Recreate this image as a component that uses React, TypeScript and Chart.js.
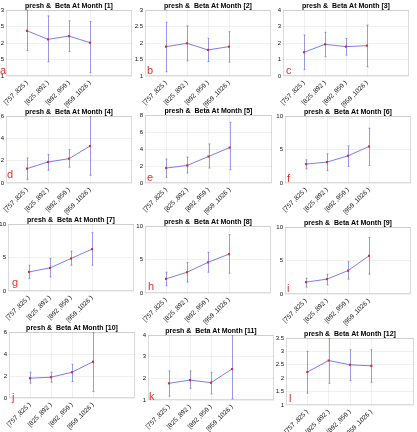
import React, { useEffect, useRef } from 'react';
import { Chart, registerables } from 'chart.js';
Chart.register(...registerables);

// ---------- data ----------
const categories = ['[757 ,825 )', '[825 ,892 )', '[892 ,959 )', '[959 ,1026 )'];
const months = [1, 2, 3, 4, 5, 6, 7, 8, 9, 10, 11, 12];
const panelLetters = ['a', 'b', 'c', 'd', 'e', 'f', 'g', 'h', 'i', 'j', 'k', 'l'];

const mean1 = [2.37, 2.11, 2.21, 2.01];
const low1 = [1.77, 1.43, 1.74, 1.10];
const high1 = [3.0, 2.82, 2.67, 2.65];

const mean2 = [1.89, 1.99, 1.79, 1.89];
const low2 = [1.13, 1.46, 1.44, 1.42];
const high2 = [2.63, 2.52, 2.14, 2.34];

const mean3 = [1.44, 1.92, 1.78, 1.84];
const low3 = [0.40, 1.17, 1.27, 0.56];
const high3 = [2.48, 2.65, 2.28, 3.09];

const mean4 = [1.29, 1.88, 2.18, 3.31];
const low4 = [0.33, 1.14, 1.43, 0.69];
const high4 = [2.24, 2.54, 2.99, 6.0];

const mean5 = [1.76, 2.07, 3.12, 4.17];
const low5 = [0.66, 1.17, 1.76, 1.56];
const high5 = [2.81, 3.04, 4.60, 7.14];

const mean6 = [2.82, 3.12, 4.06, 5.45];
const low6 = [2.12, 1.83, 2.47, 2.62];
const high6 = [3.46, 4.35, 5.54, 8.17];

const mean7 = [2.85, 3.45, 4.85, 6.25];
const low7 = [1.85, 2.10, 3.85, 3.85];
const high7 = [3.85, 4.85, 5.95, 8.70];

const mean8 = [2.11, 3.10, 4.58, 5.80];
const low8 = [1.08, 1.62, 3.10, 2.95];
const high8 = [3.10, 4.53, 6.06, 8.71];

const mean9 = [1.77, 2.22, 3.49, 5.70];
const low9 = [1.03, 1.37, 2.22, 2.95];
const high9 = [2.36, 2.95, 4.82, 8.42];

const mean10 = [1.80, 1.89, 2.34, 3.30];
const low10 = [1.35, 1.44, 1.50, 0.60];
const high10 = [2.34, 2.34, 3.06, 6.0];

const mean11 = [1.77, 1.92, 1.80, 2.43];
const low11 = [1.18, 1.54, 1.28, 1.05];
const high11 = [2.34, 2.34, 2.28, 4.0];

const mean12 = [2.23, 2.66, 2.50, 2.46];
const low12 = [1.44, 1.81, 1.91, 1.85];
const high12 = [3.00, 3.50, 3.06, 3.06];

// y-axis tick settings per panel: [min, max, step]
const yTicks1 = [1, 3, 0.5];
const yTicks2 = [1, 3, 0.5];
const yTicks3 = [0, 4, 1];
const yTicks4 = [0, 6, 2];
const yTicks5 = [0, 8, 2];
const yTicks6 = [0, 10, 5];
const yTicks7 = [0, 10, 5];
const yTicks8 = [0, 10, 5];
const yTicks9 = [0, 10, 5];
const yTicks10 = [0, 6, 2];
const yTicks11 = [1, 4, 1];
const yTicks12 = [1, 3.5, 0.5];

const means = [mean1, mean2, mean3, mean4, mean5, mean6, mean7, mean8, mean9, mean10, mean11, mean12];
const lows = [low1, low2, low3, low4, low5, low6, low7, low8, low9, low10, low11, low12];
const highs = [high1, high2, high3, high4, high5, high6, high7, high8, high9, high10, high11, high12];
const yTicks = [yTicks1, yTicks2, yTicks3, yTicks4, yTicks5, yTicks6, yTicks7, yTicks8, yTicks9, yTicks10, yTicks11, yTicks12];

// ---------- layout (page px): plot area left, right, top, bottom ----------
const plotBoxes = [
  [6, 132, 10, 76],
  [145, 271, 10, 76],
  [283, 409, 10, 76],
  [6, 132, 116, 183],
  [145, 272, 115, 183],
  [285, 411, 116, 183],
  [8, 134, 224, 291],
  [145, 271, 226, 293],
  [285, 411, 227, 294],
  [9, 135, 332, 398],
  [148, 274, 335, 400],
  [286, 414, 338, 405],
];
// letter offset: dx from plot left, baseline dy above plot bottom
const letterOffsets = [
  [-6, 2], [2, 2], [3, 2], [1, 5], [2, 2], [2, 1],
  [4, 5], [3, 3], [2, 2], [3, -3], [1, 0], [3, 3],
];

const Y_AXIS_W = 24;
const X_AXIS_H = 32;
const PAD_TOP = 12;
const PAD_RIGHT = 4;
const FONT = "'Liberation Sans', Arial, sans-serif";

const decorPlugin = {
  id: 'decor',
  beforeDatasetsDraw(chart: any) {
    const o = chart.options.plugins.decor;
    const { ctx, chartArea } = chart;
    const xs = chart.scales.x;
    const ys = chart.scales.y;
    ctx.save();
    // box
    ctx.strokeStyle = 'rgba(0,0,0,0.14)';
    ctx.lineWidth = 1;
    ctx.strokeRect(chartArea.left + 0.5, chartArea.top + 0.5, chartArea.right - chartArea.left - 1, chartArea.bottom - chartArea.top - 1);
    // error bars
    ctx.beginPath();
    ctx.rect(chartArea.left, chartArea.top, chartArea.right - chartArea.left, chartArea.bottom - chartArea.top);
    ctx.clip();
    ctx.strokeStyle = 'rgba(95,95,225,0.6)';
    ctx.lineWidth = 1;
    o.lows.forEach((lo: number, i: number) => {
      const hi = o.highs[i];
      const x = Math.round(xs.getPixelForValue(i + 1)) + 0.5;
      const y1 = ys.getPixelForValue(lo);
      const y2 = ys.getPixelForValue(hi);
      ctx.beginPath();
      ctx.moveTo(x, y1);
      ctx.lineTo(x, y2);
      ctx.moveTo(x - 1, y1);
      ctx.lineTo(x + 1, y1);
      ctx.moveTo(x - 1, y2);
      ctx.lineTo(x + 1, y2);
      ctx.stroke();
    });
    ctx.restore();
  },
  afterDraw(chart: any) {
    const o = chart.options.plugins.decor;
    const { ctx, chartArea } = chart;
    ctx.save();
    ctx.fillStyle = '#000';
    ctx.font = `bold 7px ${FONT}`;
    ctx.textAlign = 'center';
    ctx.textBaseline = 'alphabetic';
    ctx.fillText(o.title, (chartArea.left + chartArea.right) / 2, chartArea.top - 2);
    ctx.fillStyle = '#e5302c';
    ctx.font = `11px ${FONT}`;
    ctx.textAlign = 'left';
    ctx.fillText(o.letter, chartArea.left + o.letterDx, chartArea.bottom - o.letterDy);
    ctx.restore();
  },
};

function Panel({ idx }: { idx: number }) {
  const ref = useRef<HTMLCanvasElement>(null);
  const [pl, pr, pt, pb] = plotBoxes[idx];
  const width = pr - pl + Y_AXIS_W + PAD_RIGHT;
  const height = pb - pt + PAD_TOP + X_AXIS_H;
  const left = pl - Y_AXIS_W;
  const top = pt - PAD_TOP;

  useEffect(() => {
    const [ymin, ymax, ystep] = yTicks[idx];
    const chart = new Chart(ref.current as HTMLCanvasElement, {
      type: 'line',
      data: {
        datasets: [
          {
            data: means[idx].map((v, i) => ({ x: i + 1, y: v })),
            borderColor: 'rgba(110,110,240,0.9)',
            borderWidth: 1,
            pointBackgroundColor: '#e02a2a',
            pointBorderColor: '#e02a2a',
            pointRadius: 1.5,
            pointBorderWidth: 0,
            pointStyle: 'rect',
            tension: 0,
          },
        ],
      },
      options: {
        animation: false,
        responsive: false,
        devicePixelRatio: 1,
        layout: { padding: { top: PAD_TOP, right: PAD_RIGHT, left: 0, bottom: 0 } },
        plugins: {
          legend: { display: false },
          tooltip: { enabled: false },
          title: { display: false },
          decor: {
            title: `presh &  Beta At Month [${months[idx]}]`,
            letter: panelLetters[idx],
            letterDx: letterOffsets[idx][0],
            letterDy: letterOffsets[idx][1],
            lows: lows[idx],
            highs: highs[idx],
          },
        } as any,
        scales: {
          x: {
            type: 'linear',
            min: 0,
            max: 6,
            afterBuildTicks: (scale: any) => {
              scale.ticks = categories.map((_, i) => ({ value: i + 1 }));
            },
            afterFit: (scale: any) => {
              scale.height = X_AXIS_H;
            },
            grid: { color: 'rgba(0,0,0,0.06)', drawTicks: false },
            border: { display: false },
            ticks: {
              autoSkip: false,
              minRotation: 45,
              maxRotation: 45,
              padding: 3,
              color: '#111',
              font: { size: 6.5, family: FONT },
              callback: (v: any) => categories[Math.round(Number(v)) - 1] ?? '',
            },
          },
          y: {
            min: ymin,
            max: ymax,
            afterFit: (scale: any) => {
              scale.width = Y_AXIS_W;
            },
            grid: { color: 'rgba(0,0,0,0.06)', drawTicks: false },
            border: { display: false },
            ticks: {
              stepSize: ystep,
              padding: 2,
              color: '#111',
              font: { size: 6, family: FONT },
              callback: (v: any) => String(Math.round(Number(v) * 100) / 100),
            },
          },
        },
      },
      plugins: [decorPlugin],
    } as any);
    return () => chart.destroy();
  }, [idx]);

  return (
    <canvas
      ref={ref}
      width={width}
      height={height}
      style={{ position: 'absolute', left, top, width, height }}
    />
  );
}

export default function App() {
  return (
    <div style={{ position: 'absolute', left: 0, top: 0, width: 417, height: 432, background: '#fff', overflow: 'hidden' }}>
      {months.map((_, i) => (
        <Panel key={i} idx={i} />
      ))}
    </div>
  );
}
